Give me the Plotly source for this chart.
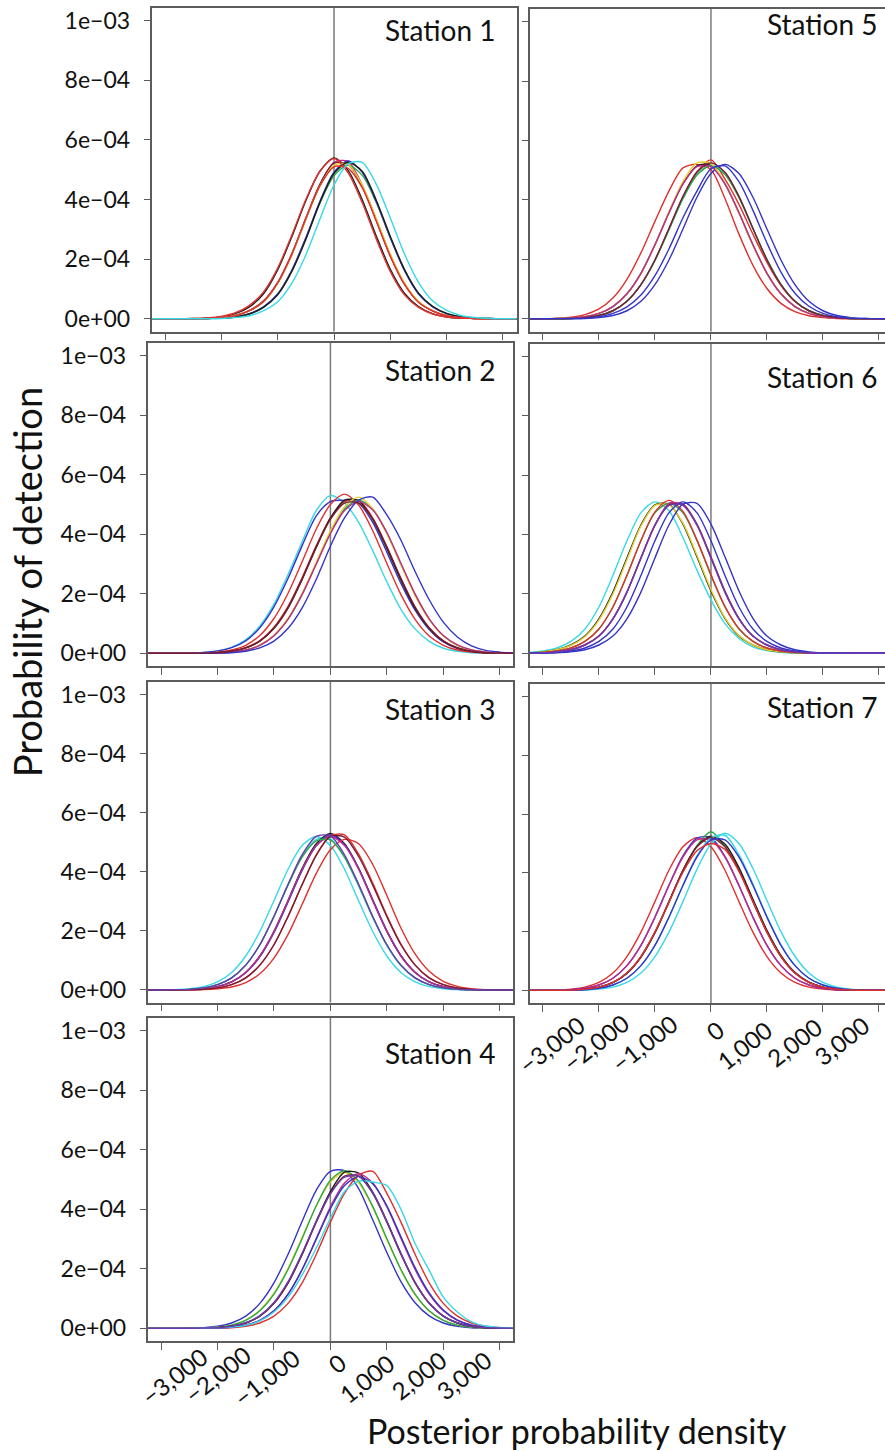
import plotly.graph_objects as go

# ---------------- data (density values in units of 1e-4) ----------------
X_GRID = [-3250, -3000, -2750, -2500, -2250, -2000, -1750, -1500, -1250, -1000, -750, -500, -250,
          0, 250, 500, 750, 1000, 1250, 1500, 1750, 2000, 2250, 2500, 2750, 3000, 3250]
Y_UNIT = 1e-4

K, R, B, C, M, G, Y, D, P = ("#1e1e1e", "#e0302e", "#3434c8", "#38d8e6", "#c02a8c",
                             "#2aa84a", "#e6d22a", "#7a1d32", "#6a3ab0")

STATION1_COLORS = [K, M, D, G, B, Y, K, R, R, C]
STATION1_Y = [
    [0,0,0,0.01,0.02,0.06,0.17,0.40,0.84,1.64,2.74,3.96,4.95,5.40,4.98,4.00,2.78,1.66,0.86,0.41,0.17,0.06,0.02,0.01,0,0,0],
    [0,0,0,0,0.01,0.04,0.10,0.27,0.57,1.19,2.14,3.34,4.49,5.25,5.28,4.49,3.34,2.14,1.19,0.57,0.27,0.10,0.04,0.01,0,0,0],
    [0,0,0,0,0.01,0.04,0.11,0.28,0.60,1.22,2.18,3.38,4.52,5.22,5.18,4.45,3.30,2.10,1.16,0.56,0.26,0.10,0.04,0.01,0,0,0],
    [0,0,0,0,0.01,0.02,0.06,0.17,0.40,0.83,1.62,2.70,3.88,4.80,5.15,4.82,3.90,2.72,1.64,0.85,0.41,0.17,0.06,0.02,0.01,0,0],
    [0,0,0,0,0.01,0.02,0.06,0.17,0.40,0.83,1.62,2.72,3.94,4.92,5.30,4.92,3.94,2.72,1.62,0.83,0.40,0.17,0.06,0.02,0.01,0,0],
    [0,0,0,0,0.01,0.04,0.10,0.27,0.57,1.19,2.14,3.34,4.45,5.15,5.18,4.49,3.36,2.16,1.20,0.58,0.27,0.10,0.04,0.01,0,0,0],
    [0,0,0,0,0.01,0.02,0.06,0.16,0.38,0.80,1.58,2.66,3.90,4.88,5.25,4.95,3.98,2.76,1.66,0.86,0.42,0.18,0.07,0.02,0.01,0,0],
    [0,0,0,0,0.01,0.04,0.10,0.27,0.58,1.20,2.16,3.36,4.46,5.10,5.05,4.40,3.28,2.10,1.16,0.55,0.26,0.10,0.04,0.01,0,0,0],
    [0,0,0,0.01,0.03,0.08,0.20,0.45,0.90,1.70,2.80,4.00,4.95,5.38,4.90,3.90,2.68,1.58,0.80,0.38,0.16,0.06,0.02,0.01,0,0,0],
    [0,0,0,0,0,0.01,0.04,0.10,0.27,0.57,1.19,2.14,3.34,4.49,5.20,5.25,4.52,3.38,2.18,1.22,0.60,0.28,0.11,0.04,0.01,0,0],
]

STATION2_COLORS = [C, B, R, R, K, G, Y, M, B, D]
STATION2_Y = [
    [0,0,0,0.01,0.03,0.08,0.20,0.45,0.92,1.65,2.65,3.75,4.80,5.30,5.05,4.40,3.45,2.40,1.48,0.82,0.40,0.17,0.07,0.02,0.01,0,0],
    [0,0,0,0.01,0.03,0.08,0.19,0.42,0.86,1.56,2.52,3.62,4.62,5.10,5.14,5.05,4.40,3.40,2.35,1.45,0.80,0.38,0.16,0.06,0.02,0.01,0],
    [0,0,0,0,0.01,0.04,0.11,0.27,0.60,1.17,2.02,3.08,4.18,5.00,5.35,4.98,4.12,3.02,1.97,1.14,0.58,0.27,0.11,0.04,0.01,0,0],
    [0,0,0,0,0.01,0.02,0.07,0.19,0.43,0.88,1.58,2.55,3.62,4.55,5.10,5.15,4.55,3.57,2.49,1.53,0.84,0.41,0.18,0.07,0.02,0.01,0],
    [0,0,0,0,0.01,0.02,0.07,0.18,0.41,0.84,1.53,2.49,3.57,4.54,5.15,5.12,4.50,3.52,2.46,1.52,0.84,0.41,0.18,0.07,0.02,0.01,0],
    [0,0,0,0,0,0.01,0.04,0.11,0.27,0.59,1.15,1.98,3.02,4.05,4.85,5.15,4.85,4.05,3.00,1.98,1.15,0.59,0.27,0.11,0.04,0.01,0],
    [0,0,0,0,0,0.01,0.04,0.11,0.28,0.61,1.18,2.02,3.06,4.12,4.92,5.25,4.86,4.02,2.96,1.94,1.13,0.58,0.27,0.11,0.04,0.01,0],
    [0,0,0,0,0,0.01,0.04,0.11,0.27,0.59,1.15,1.98,3.00,4.02,4.80,5.10,4.82,4.06,3.02,1.99,1.16,0.60,0.28,0.11,0.04,0.01,0],
    [0,0,0,0,0,0.01,0.02,0.07,0.18,0.41,0.84,1.53,2.49,3.60,4.55,5.15,5.25,4.65,3.80,2.75,1.80,1.05,0.55,0.25,0.10,0.04,0.01],
    [0,0,0,0,0.01,0.02,0.07,0.18,0.41,0.84,1.53,2.49,3.57,4.50,5.05,5.05,4.52,3.58,2.52,1.56,0.86,0.42,0.18,0.07,0.02,0.01,0],
]

STATION3_COLORS = [C, C, K, B, R, R, M, G, D, P]
STATION3_Y = [
    [0,0,0.01,0.04,0.11,0.27,0.59,1.15,1.98,3.02,4.09,4.89,5.20,4.89,4.09,3.02,1.98,1.15,0.59,0.27,0.11,0.04,0.01,0,0,0,0],
    [0,0,0.01,0.02,0.07,0.18,0.41,0.84,1.53,2.49,3.57,4.54,5.10,5.12,4.50,3.52,2.45,1.50,0.82,0.40,0.18,0.07,0.02,0.01,0,0,0],
    [0,0,0,0.01,0.04,0.11,0.27,0.59,1.15,1.98,3.03,4.12,4.95,5.30,4.95,4.12,3.03,1.98,1.15,0.59,0.27,0.11,0.04,0.01,0,0,0],
    [0,0,0,0.01,0.04,0.11,0.27,0.58,1.12,1.94,2.98,4.05,4.88,5.25,4.92,4.12,3.06,2.01,1.17,0.60,0.27,0.11,0.04,0.01,0,0,0],
    [0,0,0,0.01,0.02,0.07,0.18,0.41,0.84,1.53,2.49,3.57,4.58,5.22,5.25,4.60,3.62,2.52,1.55,0.85,0.41,0.18,0.07,0.02,0.01,0,0],
    [0,0,0,0,0.01,0.04,0.10,0.25,0.55,1.08,1.88,2.90,3.95,4.75,5.10,4.95,4.25,3.20,2.10,1.22,0.63,0.29,0.12,0.04,0.01,0,0],
    [0,0,0,0.01,0.04,0.11,0.27,0.59,1.15,1.98,3.02,4.09,4.89,5.20,4.89,4.09,3.02,1.98,1.15,0.59,0.27,0.11,0.04,0.01,0,0,0],
    [0,0,0.01,0.02,0.07,0.18,0.41,0.84,1.53,2.49,3.55,4.50,5.05,5.08,4.50,3.55,2.48,1.53,0.84,0.41,0.18,0.07,0.02,0.01,0,0,0],
    [0,0,0,0.01,0.02,0.07,0.18,0.41,0.84,1.53,2.49,3.57,4.56,5.20,5.18,4.52,3.55,2.48,1.53,0.84,0.41,0.18,0.07,0.02,0.01,0,0],
    [0,0,0.01,0.02,0.07,0.18,0.41,0.84,1.53,2.49,3.58,4.58,5.20,5.22,4.58,3.58,2.49,1.53,0.84,0.41,0.18,0.07,0.02,0.01,0,0,0],
]

STATION4_COLORS = [B, Y, G, K, R, M, B, D, C, P]
STATION4_Y = [
    [0,0,0,0.01,0.02,0.07,0.18,0.41,0.84,1.53,2.49,3.60,4.65,5.28,5.30,4.70,3.65,2.55,1.57,0.86,0.42,0.18,0.07,0.02,0.01,0,0],
    [0,0,0,0,0.01,0.04,0.11,0.28,0.61,1.18,2.02,3.06,4.12,4.92,5.25,4.89,4.06,2.98,1.95,1.13,0.58,0.27,0.11,0.04,0.01,0,0],
    [0,0,0,0,0.01,0.04,0.11,0.27,0.59,1.15,1.98,3.02,4.12,4.98,5.30,4.95,4.10,3.02,1.98,1.15,0.59,0.27,0.11,0.04,0.01,0,0],
    [0,0,0,0,0.01,0.02,0.07,0.18,0.41,0.84,1.53,2.49,3.60,4.60,5.25,5.22,4.58,3.60,2.51,1.54,0.85,0.41,0.18,0.07,0.02,0.01,0],
    [0,0,0,0,0,0.01,0.02,0.07,0.18,0.41,0.84,1.53,2.49,3.57,4.54,5.15,5.28,4.54,3.57,2.49,1.53,0.84,0.41,0.18,0.07,0.02,0.01],
    [0,0,0,0,0,0.01,0.04,0.11,0.27,0.59,1.15,1.98,3.02,4.09,4.89,5.20,4.89,4.09,3.02,1.98,1.15,0.59,0.27,0.11,0.04,0.01,0],
    [0,0,0,0,0,0.01,0.04,0.11,0.27,0.59,1.15,1.98,3.00,4.02,4.80,5.10,4.86,4.12,3.08,2.04,1.19,0.62,0.28,0.11,0.04,0.01,0],
    [0,0,0,0,0.01,0.02,0.07,0.18,0.41,0.84,1.53,2.49,3.57,4.54,5.12,5.12,4.54,3.57,2.49,1.53,0.84,0.41,0.18,0.07,0.02,0.01,0],
    [0,0,0,0,0.01,0.02,0.04,0.10,0.25,0.55,1.05,1.80,2.70,3.70,4.60,4.95,4.92,4.80,4.00,2.85,1.95,1.05,0.55,0.22,0.08,0.03,0.01],
    [0,0,0,0,0.01,0.02,0.07,0.19,0.43,0.87,1.57,2.53,3.60,4.52,5.08,5.12,4.56,3.60,2.52,1.55,0.85,0.41,0.18,0.07,0.02,0.01,0],
]

STATION5_COLORS = [R, R, K, B, C, G, Y, M, D, B]
STATION5_Y = [
    [0,0,0.01,0.05,0.14,0.33,0.70,1.33,2.22,3.28,4.30,5.08,5.20,5.02,4.05,2.85,1.80,1.02,0.52,0.24,0.10,0.04,0.01,0,0,0,0],
    [0,0,0,0.01,0.04,0.11,0.27,0.59,1.15,1.98,3.02,4.09,4.95,5.35,4.70,3.85,2.85,1.90,1.12,0.58,0.27,0.11,0.04,0.01,0,0,0],
    [0,0,0.01,0.02,0.07,0.18,0.41,0.84,1.53,2.49,3.57,4.54,5.15,5.18,4.54,3.57,2.49,1.53,0.84,0.41,0.18,0.07,0.02,0.01,0,0,0],
    [0,0,0,0,0.01,0.04,0.11,0.27,0.59,1.15,1.98,3.02,4.09,4.89,5.20,4.89,4.09,3.02,1.98,1.15,0.59,0.27,0.11,0.04,0.01,0,0],
    [0,0,0,0.01,0.04,0.11,0.27,0.59,1.15,1.98,3.00,4.05,4.85,5.18,4.92,4.12,3.05,2.00,1.16,0.60,0.28,0.11,0.04,0.01,0,0,0],
    [0,0,0,0.01,0.04,0.11,0.27,0.59,1.15,1.96,3.00,4.05,4.84,5.15,4.86,4.08,3.03,2.00,1.16,0.59,0.27,0.11,0.04,0.01,0,0,0],
    [0,0,0.01,0.02,0.07,0.18,0.41,0.84,1.53,2.49,3.60,4.62,5.25,5.22,4.55,3.55,2.47,1.52,0.84,0.41,0.18,0.07,0.02,0.01,0,0,0],
    [0,0,0.01,0.02,0.07,0.18,0.41,0.84,1.53,2.49,3.57,4.54,5.12,5.12,4.54,3.57,2.49,1.53,0.84,0.41,0.18,0.07,0.02,0.01,0,0,0],
    [0,0,0,0.01,0.04,0.11,0.27,0.59,1.15,1.98,3.04,4.12,4.93,5.25,4.93,4.12,3.04,1.98,1.15,0.59,0.27,0.11,0.04,0.01,0,0,0],
    [0,0,0,0.01,0.02,0.07,0.18,0.40,0.80,1.45,2.35,3.40,4.30,5.05,5.15,4.62,3.65,2.55,1.57,0.86,0.42,0.18,0.07,0.02,0.01,0,0],
]

STATION6_COLORS = [C, K, Y, G, R, D, M, B, B, P]
STATION6_Y = [
    [0.03,0.08,0.18,0.40,0.82,1.56,2.62,3.79,4.73,5.10,4.80,3.90,2.80,1.80,1.00,0.50,0.22,0.09,0.03,0.01,0,0,0,0,0,0,0],
    [0.02,0.05,0.12,0.28,0.58,1.16,2.06,3.21,4.32,5.00,5.02,4.35,3.25,2.10,1.18,0.58,0.28,0.12,0.05,0.02,0.01,0,0,0,0,0,0],
    [0.02,0.05,0.12,0.27,0.56,1.12,2.00,3.15,4.28,4.98,5.00,4.38,3.30,2.15,1.20,0.60,0.28,0.12,0.05,0.02,0.01,0,0,0,0,0,0],
    [0.01,0.03,0.08,0.18,0.40,0.82,1.56,2.62,3.79,4.73,5.05,4.73,3.79,2.62,1.56,0.82,0.40,0.18,0.08,0.03,0.01,0,0,0,0,0,0],
    [0.01,0.03,0.08,0.18,0.40,0.82,1.56,2.62,3.80,4.76,5.15,4.78,3.82,2.65,1.58,0.83,0.40,0.18,0.08,0.03,0.01,0,0,0,0,0,0],
    [0.01,0.02,0.05,0.12,0.28,0.58,1.16,2.06,3.21,4.32,5.00,5.02,4.35,3.25,2.10,1.18,0.58,0.28,0.12,0.05,0.02,0.01,0,0,0,0,0],
    [0.01,0.02,0.05,0.12,0.28,0.58,1.16,2.06,3.21,4.30,5.05,5.00,4.32,3.21,2.06,1.16,0.58,0.28,0.12,0.05,0.02,0.01,0,0,0,0,0],
    [0,0.01,0.03,0.08,0.18,0.40,0.82,1.56,2.62,3.79,4.73,5.10,4.73,3.79,2.62,1.56,0.82,0.40,0.18,0.08,0.03,0.01,0,0,0,0,0],
    [0,0.01,0.02,0.05,0.12,0.28,0.58,1.16,2.06,3.21,4.32,5.02,5.05,4.35,3.25,2.10,1.18,0.58,0.28,0.12,0.05,0.02,0.01,0,0,0,0],
    [0.01,0.02,0.05,0.12,0.28,0.58,1.16,2.06,3.21,4.32,4.98,4.98,4.32,3.21,2.06,1.16,0.58,0.28,0.12,0.05,0.02,0.01,0,0,0,0,0],
]

STATION7_COLORS = [R, B, G, K, M, C, C, D, B, R]
STATION7_Y = [
    [0,0,0.01,0.04,0.11,0.27,0.59,1.15,1.98,3.02,4.09,4.89,5.20,4.89,4.09,3.02,1.98,1.15,0.59,0.27,0.11,0.04,0.01,0,0,0,0],
    [0,0,0.01,0.02,0.07,0.18,0.41,0.84,1.53,2.49,3.58,4.58,5.18,5.20,4.56,3.57,2.49,1.53,0.84,0.41,0.18,0.07,0.02,0.01,0,0,0],
    [0,0,0,0.01,0.04,0.11,0.27,0.59,1.15,1.98,3.02,4.09,4.92,5.40,4.90,4.09,3.02,1.98,1.15,0.59,0.27,0.11,0.04,0.01,0,0,0],
    [0,0,0,0.01,0.04,0.10,0.26,0.57,1.12,1.95,3.00,4.08,4.90,5.25,4.98,4.18,3.10,2.04,1.19,0.61,0.28,0.11,0.04,0.01,0,0,0],
    [0,0,0.01,0.02,0.07,0.18,0.41,0.84,1.53,2.49,3.57,4.54,5.12,5.12,4.54,3.57,2.49,1.53,0.84,0.41,0.18,0.07,0.02,0.01,0,0,0],
    [0,0,0,0,0.01,0.04,0.11,0.27,0.59,1.15,1.98,3.02,4.12,4.98,5.35,5.00,4.15,3.06,2.00,1.16,0.59,0.27,0.11,0.04,0.01,0,0],
    [0,0,0,0.01,0.02,0.07,0.18,0.41,0.84,1.53,2.49,3.58,4.58,5.20,5.28,4.62,3.62,2.52,1.55,0.85,0.41,0.18,0.07,0.02,0.01,0,0],
    [0,0,0,0.01,0.04,0.11,0.27,0.59,1.15,1.98,3.02,4.09,4.89,5.20,4.89,4.09,3.02,1.98,1.15,0.59,0.27,0.11,0.04,0.01,0,0,0],
    [0,0,0,0.01,0.02,0.07,0.18,0.41,0.84,1.53,2.49,3.57,4.54,5.12,5.12,4.54,3.57,2.49,1.53,0.84,0.41,0.18,0.07,0.02,0.01,0,0],
    [0,0,0,0.01,0.04,0.11,0.27,0.59,1.15,1.98,3.00,4.02,4.75,5.00,4.80,4.05,3.02,1.98,1.15,0.59,0.27,0.11,0.04,0.01,0,0,0],
]

STATION_NAMES = ["Station 1", "Station 2", "Station 3", "Station 4", "Station 5", "Station 6", "Station 7"]
STATION_Y = [STATION1_Y, STATION2_Y, STATION3_Y, STATION4_Y, STATION5_Y, STATION6_Y, STATION7_Y]
STATION_COLORS = [STATION1_COLORS, STATION2_COLORS, STATION3_COLORS, STATION4_COLORS,
                  STATION5_COLORS, STATION6_COLORS, STATION7_COLORS]

Y_TICK_VALS = [0, 2e-4, 4e-4, 6e-4, 8e-4, 1e-3]
Y_TICK_TEXT = ["0e+00", "2e\u221204", "4e\u221204", "6e\u221204", "8e\u221204", "1e\u221203"]
X_TICK_VALS = [-3000, -2000, -1000, 0, 1000, 2000, 3000]
X_TICK_TEXT = ["\u22123,000", "\u22122,000", "\u22121,000", "0", "1,000", "2,000", "3,000"]

# ---------------- layout geometry (pixels) ----------------
W, H = 885, 1451
FONT = "Lato, 'Open Sans', sans-serif"
TXT = "#111111"
AX_COLOR = "#5c5c5c"

# panel: (x0, x1, y0_top, y1_bottom, column)
PANEL_BOX = [
    (151.5, 516.5, 6, 330, "L"),
    (147.5, 513.3, 341.5, 665, "L"),
    (147.5, 513.3, 681, 1002, "L"),
    (147.5, 513.3, 1017.5, 1341, "L"),
    (529.5, 885, 7, 330, "R"),
    (529.5, 885, 342, 665, "R"),
    (529.5, 885, 683, 1002.3, "R"),
]
X_RANGE_L = [-3240, 3240]
X_RANGE_R = [-3240, 3108]
Y_RANGE = [-4.3e-5, 1.043e-3]

LABEL_POS = [(498.3, 28), (498.3, 369), (498.3, 707.5), (498.3, 1052.5),
             (880, 22.5), (880, 375.5), (880, 705.5)]

XLAB_S4 = ([174, 217.3, 266.7, 336.7, 366.7, 418.3, 463.3],
           [1376.7, 1374.3, 1377.3, 1363.3, 1378.3, 1375, 1375])
XLAB_S7 = ([551.7, 595.7, 644, 715, 744, 794, 841.7],
           [1044, 1041.7, 1043.3, 1030, 1045, 1042.3, 1040])


def px(x):
    return x / W


def py(y):
    return 1 - y / H


fig = go.Figure()
layout = dict(
    width=W, height=H, margin=dict(l=0, r=0, t=0, b=0),
    paper_bgcolor="white", plot_bgcolor="white", showlegend=False,
    font=dict(family=FONT, color=TXT),
)
shapes, annotations = [], []

for k in range(7):
    idx = "" if k == 0 else str(k + 1)
    x0, x1, y0, y1, col = PANEL_BOX[k]
    for yv, colr in zip(STATION_Y[k], STATION_COLORS[k]):
        fig.add_trace(go.Scatter(
            x=X_GRID, y=[v * Y_UNIT for v in yv], mode="lines",
            line=dict(color=colr, width=1.4, shape="spline", smoothing=0.8),
            xaxis="x" + idx, yaxis="y" + idx, hoverinfo="skip"))
    layout["xaxis" + idx] = dict(
        domain=[px(x0), px(x1)], anchor="y" + idx,
        range=X_RANGE_L if col == "L" else X_RANGE_R,
        showgrid=False, zeroline=False, showline=True, mirror=True,
        linecolor=AX_COLOR, linewidth=1.6,
        ticks="outside", ticklen=7, tickwidth=1.4, tickcolor=AX_COLOR,
        tickvals=X_TICK_VALS, showticklabels=False, fixedrange=True)
    layout["yaxis" + idx] = dict(
        domain=[py(y1), py(y0)], anchor="x" + idx, range=Y_RANGE,
        showgrid=False, zeroline=False, showline=True, mirror=(col == "L"),
        linecolor=AX_COLOR, linewidth=1.6,
        ticks="outside", ticklen=6, tickwidth=1.4, tickcolor=AX_COLOR,
        tickvals=Y_TICK_VALS, ticktext=Y_TICK_TEXT,
        showticklabels=(col == "L"), ticklabelstandoff=9,
        tickfont=dict(family=FONT, size=23, color=TXT), fixedrange=True)
    shapes.append(dict(type="line", xref="x" + idx, yref="y" + idx + " domain",
                       x0=0, x1=0, y0=0, y1=1, layer="below",
                       line=dict(color="#7a7a7a", width=1.5)))
    lx, ly = LABEL_POS[k]
    annotations.append(dict(text=STATION_NAMES[k], xref="paper", yref="paper",
                            x=px(lx), y=py(ly), xanchor="right", yanchor="middle",
                            showarrow=False, font=dict(family=FONT, size=28, color=TXT)))

for xs, ys in (XLAB_S4, XLAB_S7):
    for t, xx, yy in zip(X_TICK_TEXT, xs, ys):
        annotations.append(dict(text=t, xref="paper", yref="paper", x=px(xx), y=py(yy),
                                xanchor="center", yanchor="middle", textangle=-38,
                                showarrow=False, font=dict(family=FONT, size=24, color=TXT)))

annotations.append(dict(text="Probability of detection", xref="paper", yref="paper",
                        x=px(27), y=py(581), xanchor="center", yanchor="middle", textangle=-90,
                        showarrow=False, font=dict(family=FONT, size=38, color=TXT)))
annotations.append(dict(text="Posterior probability density", xref="paper", yref="paper",
                        x=px(576.5), y=py(1430), xanchor="center", yanchor="middle",
                        showarrow=False, font=dict(family=FONT, size=34, color=TXT)))

layout["shapes"] = shapes
layout["annotations"] = annotations
fig.update_layout(**layout)
fig.write_html("out.html", config={"displayModeBar": False},
               post_script="document.body.style.margin='0';document.body.style.padding='0';"
                           "document.documentElement.style.overflow='hidden';")
